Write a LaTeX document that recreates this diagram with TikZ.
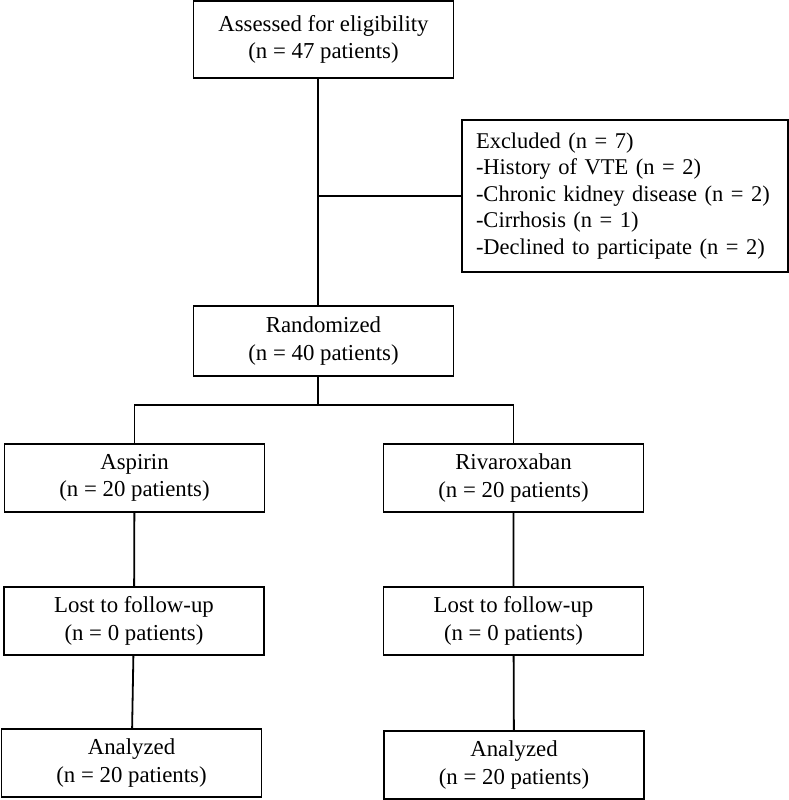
\documentclass[tikz,border=0pt]{standalone}
\usepackage{fontspec}
\setmainfont{Liberation Serif}
\usepackage{tikz}

\begin{document}
\begin{tikzpicture}[x=1pt,y=-1pt,line width=1.8pt,
  box/.style={draw,align=center,minimum width=260pt,minimum height=68pt,inner sep=0pt,
    font=\fontsize{22.8}{27.5}\selectfont}]
  \useasboundingbox (0,0) rectangle (789,800);
  \node[box,minimum height=77pt] (assess) at (323.5,39.5) {Assessed for eligibility\\(n = 47 patients)};
  \node[box,minimum width=326pt,minimum height=152pt,align=left,text width=298pt,inner xsep=14pt,
    font=\fontsize{22.5}{26.5}\selectfont] (excl) at (625,196)
    {Excluded (n = 7)\\-History of VTE (n = 2)\\-Chronic kidney disease (n = 2)\\-Cirrhosis (n = 1)\\-Declined to participate (n = 2)};
  \node[box,minimum height=70pt] (rand) at (323.5,341) {Randomized\\(n = 40 patients)};
  \coordinate (split) at (318,405);
  \node[box] (asp) at (134.5,478) {Aspirin\\(n = 20 patients)};
  \node[box] (riva) at (513.5,478) {Rivaroxaban\\(n = 20 patients)};
  \node[box] (lost1) at (134,621) {Lost to follow-up\\(n = 0 patients)};
  \node[box] (lost2) at (513.5,621) {Lost to follow-up\\(n = 0 patients)};
  \node[box] (anal1) at (131.5,763) {Analyzed\\(n = 20 patients)};
  \node[box] (anal2) at (514,765) {Analyzed\\(n = 20 patients)};
  \draw (assess.south -| split) -- (rand.north -| split);
  \draw (excl.west -| split) -- (excl.west);
  \draw (rand.south -| split) -- (split);
  \draw (asp.north) |- (split) -| (riva.north);
  \draw (asp) -- (lost1) -- (anal1);
  \draw (riva) -- (lost2) -- (anal2);
\end{tikzpicture}
\end{document}
